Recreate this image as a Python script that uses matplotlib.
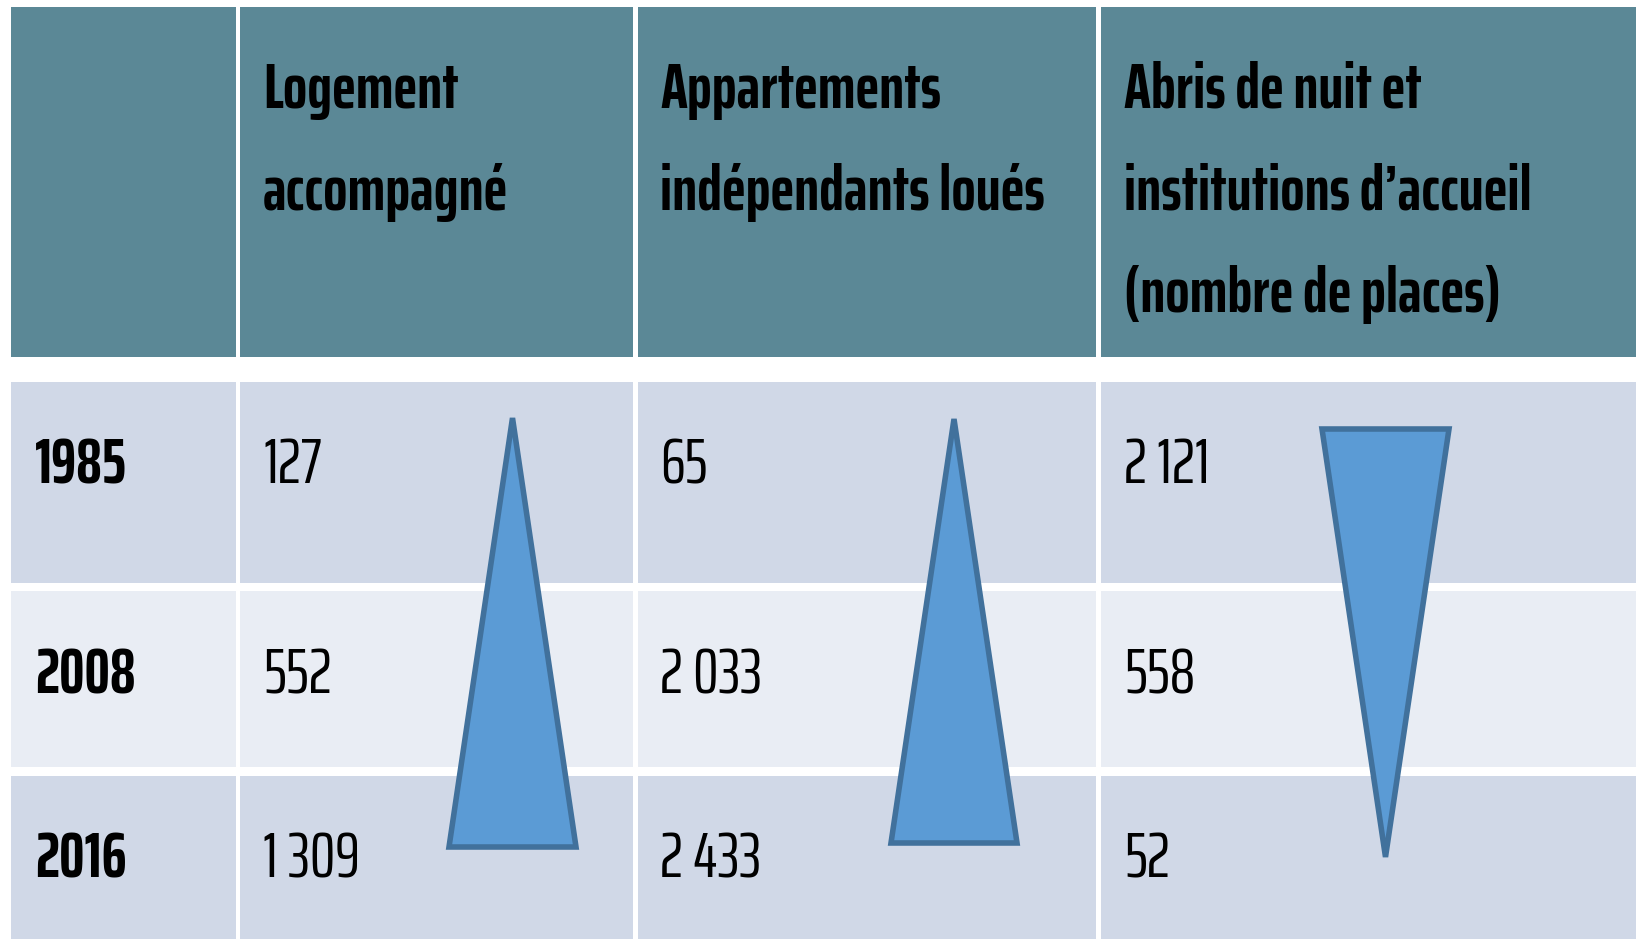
import matplotlib
matplotlib.use('Agg')
import matplotlib.pyplot as plt
from matplotlib.patches import Rectangle, Polygon
from matplotlib.font_manager import FontProperties, findfont
from matplotlib.textpath import TextPath

# table content
years = ['1985', '2008', '2016']
headers = [
    ['Logement', 'accompagné'],
    ['Appartements', 'indépendants loués'],
    ['Abris de nuit et', 'institutions d\u2019accueil', '(nombre de places)'],
]
logement = ['127', '552', '1 309']
appartements = ['65', '2 033', '2 433']
abris = ['2 121', '558', '52']
trend = ['up', 'up', 'down']

columns = [logement, appartements, abris]

# layout (pixels)
W, H = 1636, 939
col_x = [(11, 236), (240, 633), (638, 1096), (1101, 1636)]
header_y = (7, 357)
row_y = [(382, 583), (591, 767), (776, 939)]
row_colors = ['#D0D8E7', '#E9EDF4', '#D0D8E7']
header_color = '#5B8896'
head_baselines = [108, 210, 312]
row_baselines = [483, 693, 877]
text_x = [35, 263, 660, 1124]
tri_boxes = [(449, 576, 418, 847), (891, 1017, 419, 843), (1322, 1449, 429, 857)]

# pick a narrow font and a size so that 'accompagné' is ~242 px wide, caps ~50 px tall
target_w, target_cap = 242 * 0.72, 50 * 0.72
best = None
for fam in ['Saira ExtraCondensed', 'Fira Sans Extra Condensed', 'PT Sans Narrow']:
    prop = FontProperties(family=fam, weight='bold')
    try:
        findfont(prop, fallback_to_default=False)
    except ValueError:
        continue
    w100 = TextPath((0, 0), 'accompagné', size=100, prop=prop).get_extents().width
    h100 = TextPath((0, 0), 'H', size=100, prop=prop).get_extents().height
    fs_w = 100 * target_w / w100
    fs_h = 100 * target_cap / h100
    score = abs(fs_w - fs_h) / fs_h
    if best is None or score < best[0]:
        best = (score, fam, min(fs_w, fs_h))
if best is None:
    best = (0, 'DejaVu Sans', 36)
_, family, fs = best
plt.rcParams['font.family'] = [family, 'DejaVu Sans']

fig = plt.figure(figsize=(W / 100, H / 100), dpi=100)
ax = fig.add_axes([0, 0, 1, 1])
ax.set_xlim(0, W)
ax.set_ylim(H, 0)
ax.axis('off')

for x0, x1 in col_x:
    ax.add_patch(Rectangle((x0, header_y[0]), x1 - x0, header_y[1] - header_y[0],
                           facecolor=header_color, edgecolor='none'))
    for (y0, y1), c in zip(row_y, row_colors):
        ax.add_patch(Rectangle((x0, y0), x1 - x0, y1 - y0, facecolor=c, edgecolor='none'))

for j, lines in enumerate(headers):
    for k, line in enumerate(lines):
        ax.text(text_x[j + 1], head_baselines[k], line, fontsize=fs, fontweight='bold',
                va='baseline', ha='left', color='black')

for i, yr in enumerate(years):
    ax.text(text_x[0], row_baselines[i], yr, fontsize=fs, fontweight='bold',
            va='baseline', ha='left', color='black')
    for j, col in enumerate(columns):
        ax.text(text_x[j + 1], row_baselines[i], col[i], fontsize=fs,
                va='baseline', ha='left', color='black')

# trend triangles
for (x0, x1, y0, y1), d in zip(tri_boxes, trend):
    xm = (x0 + x1) / 2
    if d == 'up':
        pts = [(xm, y0), (x1, y1), (x0, y1)]
    else:
        pts = [(x0, y0), (x1, y0), (xm, y1)]
    ax.add_patch(Polygon(pts, closed=True, facecolor='#5B9BD5', edgecolor='#41719C',
                         linewidth=4, joinstyle='miter'))

fig.savefig('out.png', dpi=100)
